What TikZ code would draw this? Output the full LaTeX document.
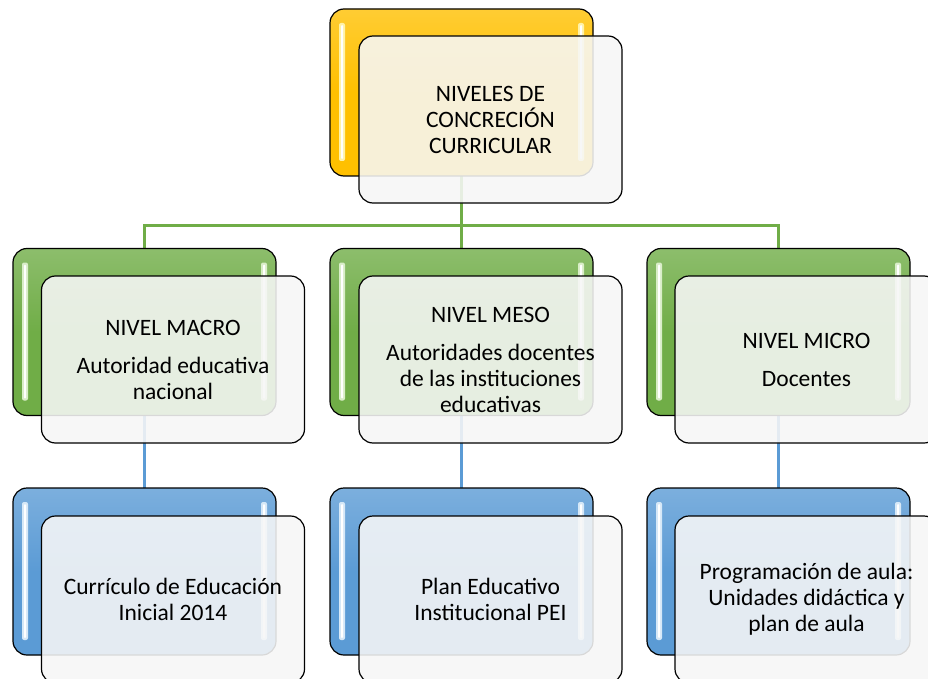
\documentclass[tikz,border=0pt]{standalone}
\usepackage{fontspec}
\setmainfont{Carlito}
\usetikzlibrary{calc}
\definecolor{gold}{HTML}{FFC000}
\definecolor{goldlt}{HTML}{FFF2A8}
\definecolor{leaf}{HTML}{70AD47}
\definecolor{leaflt}{HTML}{D9EDC8}
\definecolor{sky}{HTML}{5B9BD5}
\definecolor{skylt}{HTML}{D6E8F7}
\definecolor{frontfill}{HTML}{F7F7F7}
\tikzset{
  backbox/.style={draw=black, line width=1.2pt, rounded corners=14pt,
    minimum width=263pt, minimum height=167pt, inner sep=0pt, outer sep=0pt},
  frontbox/.style={draw=black, line width=1.2pt, rounded corners=14pt,
    fill=frontfill, fill opacity=0.88, text opacity=1,
    minimum width=263pt, minimum height=167pt, inner sep=0pt, outer sep=0pt,
    align=center, font=\fontsize{23.5}{26}\selectfont},
  gline/.style={draw=leaf, line width=3pt},
  bline/.style={draw=sky, line width=3pt}
}
\newcommand{\glossbox}[4]{%
  \node[backbox, top color=#3!80!white, bottom color=#3, middle color=#3] (#1) at (#2) {};
  \fill[#4, rounded corners=2pt] ($(#1.north west)+(9,14)$) rectangle ($(#1.south west)+(15,-15)$);
  \fill[white, rounded corners=1pt] ($(#1.north west)+(11,16)$) rectangle ($(#1.south west)+(13,-17)$);
  \fill[#4, rounded corners=2pt] ($(#1.north east)+(-15,14)$) rectangle ($(#1.south east)+(-9,-15)$);
  \fill[white, rounded corners=1pt] ($(#1.north east)+(-13,16)$) rectangle ($(#1.south east)+(-11,-17)$);
}
\begin{document}
\begin{tikzpicture}[x=1pt, y=-1pt]
\useasboundingbox (0,0) rectangle (928,679);
\clip (0,0) rectangle (928,679);
\fill[white] (0,0) rectangle (928,679);
\coordinate (hbar) at (0,225);
% invisible placeholders for the connectors (drawn first, behind boxes)
\node[backbox, draw=none] (tb) at (461.5,92.5) {};
\node[backbox, draw=none] (mb1) at (144.5,332) {};
\node[backbox, draw=none] (mb2) at (461.5,332) {};
\node[backbox, draw=none] (mb3) at (778.5,332) {};
\node[backbox, draw=none] (bb1) at (144.5,571.5) {};
\node[backbox, draw=none] (bb2) at (461.5,571.5) {};
\node[backbox, draw=none] (bb3) at (778.5,571.5) {};
\draw[gline] (tb.south) -- (mb2.north);
\draw[gline] (mb1.north) -- (mb1.north |- hbar) -- (mb3.north |- hbar) -- (mb3.north);
\draw[bline] (mb1.south) -- (bb1.north);
\draw[bline] (mb2.south) -- (bb2.north);
\draw[bline] (mb3.south) -- (bb3.north);
% top
\glossbox{tbk}{461.5,92.5}{gold}{goldlt}
\node[frontbox] (tf) at (490.5,119.5) {NIVELES DE\\CONCRECIÓN\\CURRICULAR};
% middle row
\glossbox{mbk1}{144.5,332}{leaf}{leaflt}
\node[frontbox] (mf1) at (173,359.5) {NIVEL MACRO\\[12pt]Autoridad educativa\\nacional};
\glossbox{mbk2}{461.5,332}{leaf}{leaflt}
\node[frontbox] (mf2) at (490.5,359.5) {NIVEL MESO\\[12pt]Autoridades docentes\\de las instituciones\\educativas};
\glossbox{mbk3}{778.5,332}{leaf}{leaflt}
\node[frontbox] (mf3) at (806.5,359.5) {NIVEL MICRO\\[12pt]Docentes};
% bottom row
\glossbox{bbk1}{144.5,571.5}{sky}{skylt}
\node[frontbox] (bf1) at (173,599.5) {Currículo de Educación\\Inicial 2014};
\glossbox{bbk2}{461.5,571.5}{sky}{skylt}
\node[frontbox] (bf2) at (490.5,599.5) {Plan Educativo\\Institucional PEI};
\glossbox{bbk3}{778.5,571.5}{sky}{skylt}
\node[frontbox] (bf3) at (806.5,599.5) {Programación de aula:\\Unidades didáctica y\\plan de aula};
\end{tikzpicture}
\end{document}
